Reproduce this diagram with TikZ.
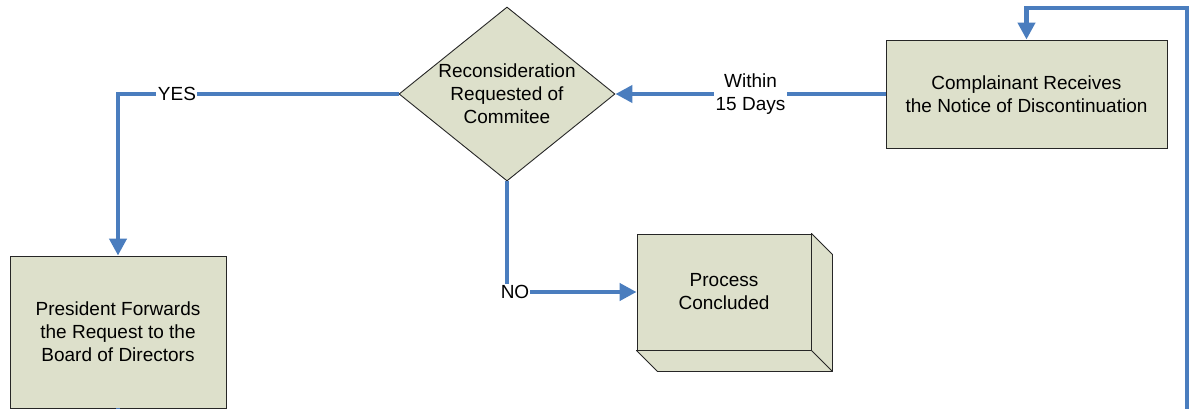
\documentclass[tikz,border=0pt]{standalone}
\usepackage{fontspec}
\setmainfont{Liberation Sans}
\usetikzlibrary{shapes.geometric,arrows.meta,calc}
\definecolor{boxfill}{RGB}{221,224,203}
\definecolor{flow}{RGB}{74,125,190}
\tikzset{
  box/.style={draw=black!85,line width=0.9pt,fill=boxfill,rectangle,inner sep=0pt,align=center,font=\fontsize{19}{23}\selectfont},
  dia/.style={draw=black!85,line width=0.9pt,fill=boxfill,diamond,inner sep=0pt},
  txt/.style={align=center,font=\fontsize{19}{23}\selectfont,inner sep=1pt},
  lbl/.style={fill=white,align=center,font=\fontsize{19}{23}\selectfont,inner sep=1.5pt},
  conn/.style={draw=flow,line width=4.2pt,line join=miter},
  arr/.style={conn,-{Triangle[width=17pt,length=17pt]}}
}
\begin{document}
\begin{tikzpicture}[x=1pt,y=-1pt]
\useasboundingbox (0,0) rectangle (1192,409);
% nodes
\node[box,minimum width=281pt,minimum height=108pt] (comp) at (1026.5,94) {Complainant Receives\\the Notice of Discontinuation};
\node[dia,minimum width=216pt,minimum height=174pt] (dec) at (507,94) {};
\node[txt] (dectxt) at (dec.center) {Reconsideration\\Requested of\\Commitee};
\node[box,minimum width=216pt,minimum height=152pt] (pres) at (118,332) {President Forwards\\the Request to the\\Board of Directors};
\node[box,minimum width=174pt,minimum height=116pt] (proc) at (724,292) {Process\\Concluded};
% 3D extrusion of process box
\path[draw=black!85,line width=0.9pt,fill=boxfill,line join=round]
  (proc.north east) -- ($(proc.north east)+(21,21)$) -- ($(proc.south east)+(21,21)$)
  -- ($(proc.south west)+(21,21)$) -- (proc.south west) -- (proc.south east) -- cycle;
\draw[black!85,line width=0.9pt] (proc.south east) -- ($(proc.south east)+(21,21)$);
% coordinates
\coordinate (loopstart) at (1187,409);
\coordinate (tr) at (1187,8);
\coordinate (yescorner) at (118,94);
\coordinate (nocorner) at (507,292);
\coordinate (pbot) at (118,409);
% connectors
\draw[arr] (loopstart) -- (tr) -| (comp.north);
\draw[arr] (comp.west) -- node[lbl,pos=0.5] {Within\\15 Days} (dec.east);
\draw[arr] (dec.west) -- node[lbl,pos=0.79] {YES} (yescorner) -- (pres.north);
\draw[arr] (dec.south) -- (nocorner) -- (proc.west);
\node[lbl,inner sep=1pt] at ($(nocorner)+(8,0)$) {NO};
\draw[conn] (pres.south) -- (pbot);
\end{tikzpicture}
\end{document}
